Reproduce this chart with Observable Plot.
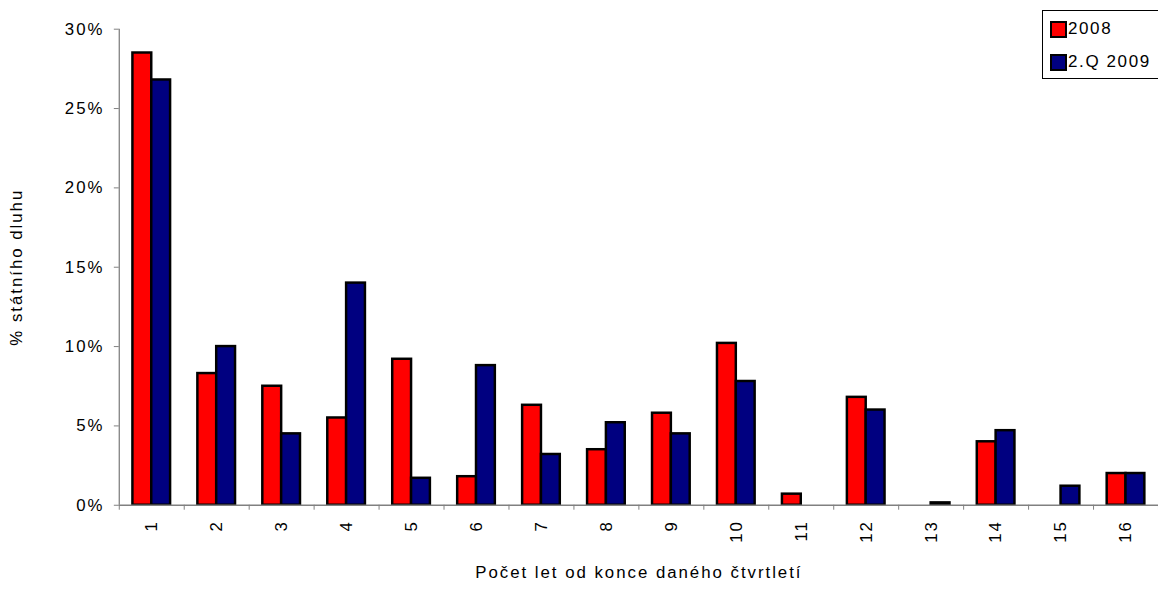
<!DOCTYPE html>
<html>
<head>
<meta charset="utf-8">
<script src="https://cdn.jsdelivr.net/npm/d3@7"></script>
<script src="https://cdn.jsdelivr.net/npm/@observablehq/plot@0.6"></script>
<style>
  html, body { margin: 0; padding: 0; background: #fff; overflow: hidden; }
  #wrap { position: relative; width: 1158px; height: 590px; overflow: hidden; }
  #wrap svg text { letter-spacing: 2px; }
  #legend { position: absolute; left: 1042px; top: 10px; width: 140px; height: 67px;
    border: 1px solid #000; background: #fff; font-family: "Liberation Sans", Arial, sans-serif; font-size: 17px; letter-spacing: 1.6px; }
  .item { position: absolute; left: 7px; display: flex; align-items: center; height: 18px; }
  .sw { width: 13px; height: 13px; border: 2px solid #000; margin-right: 1px; }
</style>
</head>
<body>
<div id="wrap"></div>
<script>
const categories = [1,2,3,4,5,6,7,8,9,10,11,12,13,14,15,16];
const series = ["2008", "2.Q 2009"];
const values2008 = [28.5, 8.3, 7.5, 5.5, 9.2, 1.8, 6.3, 3.5, 5.8, 10.2, 0.7, 6.8, 0, 4.0, 0, 2.0];
const values2009 = [26.8, 10.0, 4.5, 14.0, 1.7, 8.8, 3.2, 5.2, 4.5, 7.8, 0, 6.0, 0.15, 4.7, 1.2, 2.0];
const yTicks = [0, 5, 10, 15, 20, 25, 30];
const colors = ["#ff0000", "#000080"];

const data = categories.map((c, i) => ({cat: c, a: values2008[i], b: values2009[i]}));
const boundaries = d3.range(0, categories.length + 1).map(k => k + 0.5);
const half = 0.29;

const plot = Plot.plot({
  width: 1170,
  height: 590,
  marginLeft: 120,
  marginRight: 0,
  marginTop: 29,
  marginBottom: 80,
  style: {fontFamily: "'Liberation Sans', Arial, sans-serif", fontSize: "17px", color: "#000", background: "#fff"},
  x: {type: "linear", domain: [0.5, 16.5]},
  y: {domain: [0, 30]},
  marks: [
    Plot.rectY(data, {filter: d => d.a > 0, x1: d => d.cat - half, x2: d => d.cat, y1: 0, y2: "a", fill: colors[0], stroke: "#000", strokeWidth: 2.5}),
    Plot.rectY(data, {filter: d => d.b > 0, x1: d => d.cat, x2: d => d.cat + half, y1: 0, y2: "b", fill: colors[1], stroke: "#000", strokeWidth: 2.5}),
    Plot.ruleY([0], {stroke: "#808080", strokeWidth: 1.3}),
    Plot.ruleX([0.5], {stroke: "#808080", strokeWidth: 1.3}),
    Plot.axisY({ticks: yTicks, tickFormat: d => d + "%", tickSize: 5, tickPadding: 10, stroke: "#808080",
      label: "% státního dluhu", labelAnchor: "center", labelOffset: 110, labelArrow: "none"}),
    Plot.axisX({ticks: boundaries, tickFormat: () => "", tickSize: 5, stroke: "#808080", label: null}),
    Plot.axisX({ticks: categories, tickFormat: d => String(d), tickSize: 0, tickPadding: 15, tickRotate: -90,
      label: "Počet let od konce daného čtvrtletí", labelAnchor: "center", labelOffset: 74, labelArrow: "none"})
  ]
});
document.getElementById("wrap").appendChild(plot);

const legend = document.createElement("div");
legend.id = "legend";
series.forEach((s, i) => {
  const item = document.createElement("div");
  item.className = "item";
  item.style.top = (i === 0 ? 9 : 42) + "px";
  const sw = document.createElement("div");
  sw.className = "sw";
  sw.style.background = colors[i];
  const t = document.createElement("span");
  t.textContent = s;
  item.appendChild(sw);
  item.appendChild(t);
  legend.appendChild(item);
});
document.getElementById("wrap").appendChild(legend);
</script>
</body>
</html>
